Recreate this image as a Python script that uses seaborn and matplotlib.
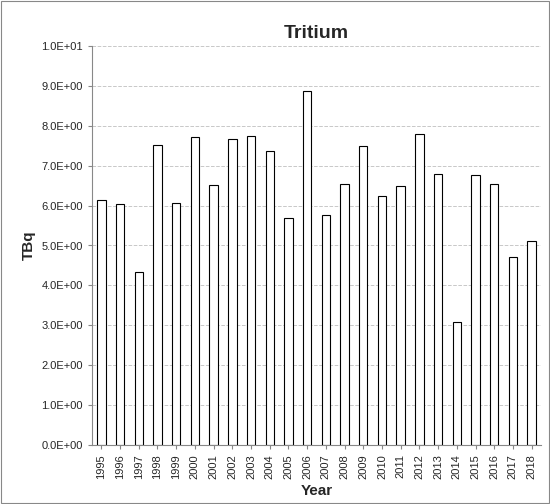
import matplotlib
matplotlib.use('Agg')
import matplotlib.pyplot as plt
import seaborn as sb
import pandas as pd
from matplotlib.ticker import MultipleLocator, FuncFormatter

years = [str(y) for y in range(1995, 2019)]
tbq = [6.14, 6.04, 4.34, 7.52, 6.07, 7.72, 6.52, 7.67, 7.74, 7.37, 5.69, 8.87,
       5.76, 6.54, 7.49, 6.24, 6.49, 7.79, 6.79, 3.08, 6.77, 6.54, 4.71, 5.11]

sb.set_style('white')
plt.rcParams['font.family'] = ['Liberation Sans', 'DejaVu Sans']

df = pd.DataFrame({'Year': years, 'TBq': tbq})
fig = plt.figure(figsize=(5.5, 5.04), dpi=100)
ax = fig.add_axes([92 / 550, 59 / 504, 449 / 550, 399 / 504])
sb.barplot(df, x='Year', y='TBq', ax=ax, color='white', edgecolor='black',
           linewidth=0.8, width=0.45)
ax.set_ylim(0, 10)
ax.yaxis.set_major_locator(MultipleLocator(1))
# Excel-style scientific labels: 1.0E+01, 9.0E+00, ...
ax.yaxis.set_major_formatter(FuncFormatter(lambda v, p: '%.1fE+%02d' % ((v / 10, 1) if v >= 10 else (v, 0))))
ax.grid(axis='y', ls='--', color='#c8c8c8', lw=0.7)
ax.set_axisbelow(True)
for s in ['top', 'right']:
    ax.spines[s].set_visible(False)
for s in ['left', 'bottom']:
    ax.spines[s].set_color('#888888')
ax.tick_params(axis='x', rotation=90, labelsize=8, length=3, color='#888888', bottom=True)
ax.tick_params(axis='y', labelsize=8, length=3, color='#888888', left=True)
ax.set_xlabel('Year', fontsize=11, fontweight='bold')
ax.set_ylabel('TBq', fontsize=11, fontweight='bold')
ax.set_title('Tritium', fontsize=14, fontweight='bold', pad=6)
fig.patches.append(plt.Rectangle((0.002, 0.002), 0.996, 0.996, transform=fig.transFigure,
                                 fill=False, edgecolor='#888888', lw=0.8))
fig.savefig('out.png', dpi=100)
